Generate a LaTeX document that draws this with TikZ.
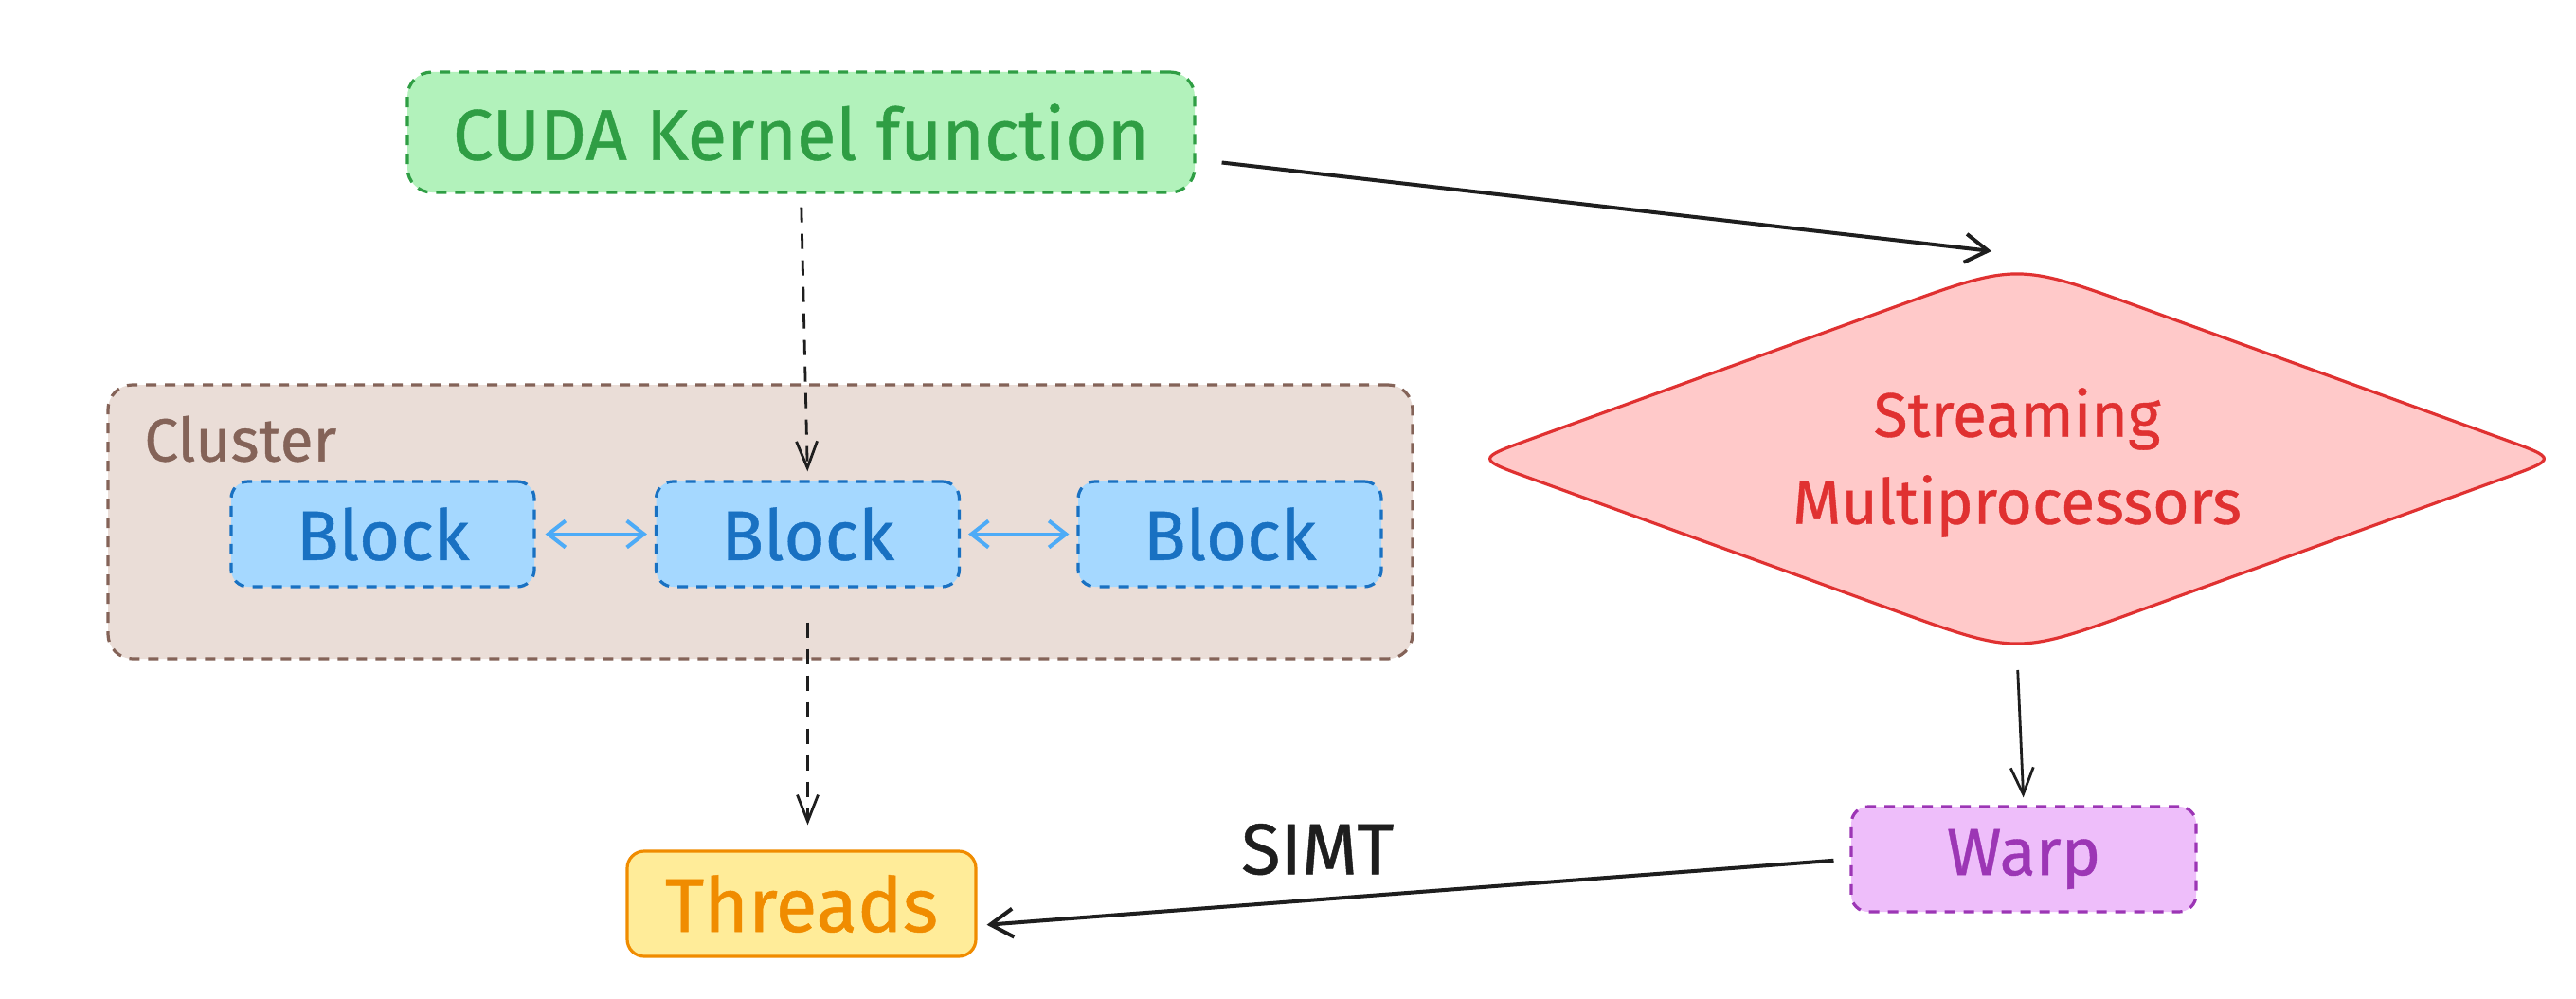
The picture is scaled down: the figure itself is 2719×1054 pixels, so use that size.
\documentclass[tikz,border=0pt]{standalone}
\usepackage{fontspec}
\setmainfont{Fira Sans}[FakeBold=0.6]
\usetikzlibrary{arrows.meta,shapes.geometric,calc}
\definecolor{gfill}{HTML}{B2F2BB}\definecolor{gline}{HTML}{2F9E44}
\definecolor{cfill}{HTML}{EADDD7}\definecolor{cline}{HTML}{846358}
\definecolor{bfill}{HTML}{A5D8FF}\definecolor{bline}{HTML}{1971C2}
\definecolor{barrow}{HTML}{4DABF7}
\definecolor{tfill}{HTML}{FFEC99}\definecolor{tline}{HTML}{F08C00}
\definecolor{wfill}{HTML}{EEBEFA}\definecolor{wline}{HTML}{9C36B5}
\definecolor{sfill}{HTML}{FFC9C9}\definecolor{sline}{HTML}{E03131}
\definecolor{ink}{HTML}{1E1E1E}
\begin{document}
\begin{tikzpicture}[x=0.5pt,y=-0.5pt,
  fs/.style={font=\fontsize{#1}{46pt}\selectfont},
  dashbox/.style={draw, line width=1.6pt, dash pattern=on 5.5pt off 4.5pt, inner sep=0pt},
  card/.style={rectangle, rounded corners=9pt, minimum height=55.5pt},
  solidarrow/.style={draw=ink, line width=2pt, -{Straight Barb[length=12pt,width=15pt,line width=2pt]}},
  dasharrow/.style={draw=ink, line width=1.4pt, dash pattern=on 8pt off 6pt, -{Straight Barb[length=14pt,width=11pt,line width=1.4pt]}},
  thinarrow/.style={draw=ink, line width=1.4pt, -{Straight Barb[length=14pt,width=12pt,line width=1.4pt]}},
  blockarrow/.style={draw=barrow, line width=2pt, {Straight Barb[length=9pt,width=14pt,line width=2pt]}-{Straight Barb[length=9pt,width=14pt,line width=2pt]}},
]
\fill[white] (0,0) rectangle (2719,1054);
\useasboundingbox (0,0) rectangle (2719,1054);

% cluster
\node[dashbox, draw=cline, fill=cfill, rectangle, rounded corners=13pt,
      minimum width=688.5pt, minimum height=144.5pt] (cluster) at (802.5,550.5) {};
\node[anchor=west, text=cline, fs=32pt, inner sep=0pt] (clusterlabel) at (152,463) {Cluster};

% kernel
\node[dashbox, draw=gline, fill=gfill, card, rounded corners=13pt, minimum width=415.5pt, minimum height=63.5pt, text=gline, fs=38pt] (cuda) at (845.5,139.5) {CUDA Kernel function};

% blocks
\node[dashbox, draw=bline, fill=bfill, card, minimum width=160pt, text=bline, fs=37pt] (block1) at (404,563.5) {Block};
\node[dashbox, draw=bline, fill=bfill, card, minimum width=160pt, text=bline, fs=37pt] (block2) at (852.5,563.5) {Block};
\node[dashbox, draw=bline, fill=bfill, card, minimum width=160pt, text=bline, fs=37pt] (block3) at (1298,563.5) {Block};

% threads
\node[draw=tline, line width=1.6pt, fill=tfill, card, inner sep=0pt, minimum width=184pt, text=tline, fs=40pt] (threads) at (846,953.5) {Threads};

% warp
\node[dashbox, draw=wline, fill=wfill, card, minimum width=182pt, text=wline, fs=35pt] (warp) at (2136,906.5) {Warp};

% streaming multiprocessors
\node[diamond, aspect=2.84, inner sep=0pt, outer sep=0pt,
      minimum width=570.5pt, minimum height=207pt] (sm) at (2129,484) {};
\fill[sfill] ($(sm.north)!70pt!(sm.west)$) .. controls (sm.north) .. ($(sm.north)!70pt!(sm.east)$)
   -- ($(sm.east)!30pt!(sm.north)$) .. controls (sm.east) .. ($(sm.east)!30pt!(sm.south)$)
   -- ($(sm.south)!70pt!(sm.east)$) .. controls (sm.south) .. ($(sm.south)!70pt!(sm.west)$)
   -- ($(sm.west)!30pt!(sm.south)$) .. controls (sm.west) .. ($(sm.west)!30pt!(sm.north)$) -- cycle;
\draw[sline, line width=1.6pt, line join=round]
      ($(sm.north)!70pt!(sm.west)$) .. controls (sm.north) .. ($(sm.north)!70pt!(sm.east)$)
   -- ($(sm.east)!30pt!(sm.north)$) .. controls (sm.east) .. ($(sm.east)!30pt!(sm.south)$)
   -- ($(sm.south)!70pt!(sm.east)$) .. controls (sm.south) .. ($(sm.south)!70pt!(sm.west)$)
   -- ($(sm.west)!30pt!(sm.south)$) .. controls (sm.west) .. ($(sm.west)!30pt!(sm.north)$) -- cycle;
\node[text=sline, fs=33pt, align=center, inner sep=0pt] (smtext) at ([yshift=-2pt]sm.center) {Streaming\\Multiprocessors};

% connectors
\draw[solidarrow] ([shift={(13.5pt,-16pt)}]cuda.east) -- ([shift={(-13.5pt,6pt)}]sm.north);
\draw[dasharrow, shorten <=7pt, shorten >=4.5pt] (cuda.south) -- (block2.north);
\draw[dasharrow, shorten <=18pt, shorten >=13pt] (block2.south) -- (block2.south |- threads.north);
\draw[thinarrow, shorten <=8pt, shorten >=4pt] (sm.south) -- (warp.north);
\draw[solidarrow, shorten <=8.5pt, shorten >=5pt] (warp.west) -- ([yshift=-11.5pt]threads.east)
  node[pos=0.61, anchor=south, yshift=12pt, inner sep=0pt, text=ink, fs=38pt] (simt) {SIMT};
\draw[blockarrow, shorten <=5pt, shorten >=4pt] (block1.east) -- (block2.west);
\draw[blockarrow, shorten <=4pt, shorten >=4pt] (block2.east) -- (block3.west);
\end{tikzpicture}
\end{document}
